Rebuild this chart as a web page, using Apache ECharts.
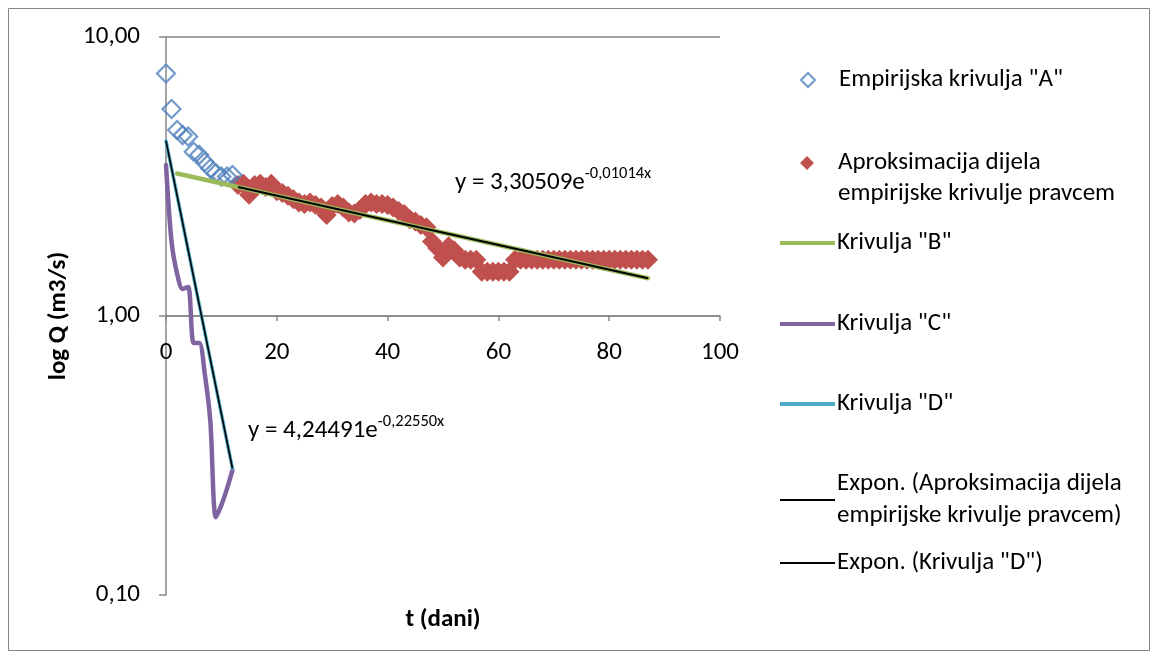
<!DOCTYPE html>
<html>
<head>
<meta charset="utf-8">
<script src="https://cdn.jsdelivr.net/npm/echarts@6/dist/echarts.min.js"></script>
<style>
html,body{margin:0;padding:0;background:#fff;}
#chart{width:1158px;height:659px;}
</style>
</head>
<body>
<div id="chart"></div>
<script>
// ---- data ----
const empTime = [0,1,2,3,4,5,6,7,8,9,10,11,12];
const empQ = [7.40,5.52,4.64,4.45,4.40,3.88,3.78,3.56,3.38,3.25,3.16,3.16,3.20];

const aproxTime = [13,14,15,16,17,18,19,20,21,22,23,24,25,26,27,28,29,30,31,32,33,34,35,36,37,38,39,40,
  41,42,43,44,45,46,47,48,49,50,51,52,53,54,55,56,57,58,59,60,61,62,63,64,65,66,67,68,69,70,
  71,72,73,74,75,76,77,78,79,80,81,82,83,84,85,86,87];
const aproxQ = [2.95,2.98,2.72,2.95,2.98,2.90,2.98,2.80,2.76,2.70,2.62,2.55,2.52,2.55,2.50,2.45,2.30,2.48,2.52,2.45,
  2.35,2.33,2.40,2.52,2.55,2.52,2.52,2.50,2.45,2.38,2.32,2.22,2.18,2.12,2.08,1.85,1.75,1.62,1.78,1.72,
  1.62,1.59,1.59,1.59,1.44,1.44,1.44,1.44,1.44,1.44,1.59,1.59,1.59,1.59,1.59,1.59,1.59,1.59,
  1.59,1.59,1.59,1.59,1.59,1.59,1.59,1.59,1.59,1.59,1.59,1.59,1.59,1.59,1.59,1.59,1.59];

const curveBTime = [2,87];
const curveBQ = [3.24,1.365];

const curveCTime = [0,1,2,3,4,5,6,7,8,9,10,11,12];
const curveCQ = [3.48,1.85,1.42,1.25,1.27,0.80,0.80,0.62,0.42,0.19,0.21,0.24,0.28];

const curveDTime = [0,12];
const curveDQ = [4.24,0.284];

const trendAproxTime = [13,87];
const trendAproxQ = [2.90,1.365];

const trendDTime = [0,12];
const trendDQ = [4.245,0.284];

const xTicks = [0,20,40,60,80,100];
const yTicks = [0.1,1,10];

const seriesNames = [
  'Empirijska krivulja "A"',
  'Aproksimacija dijela empirijske krivulje pravcem',
  'Krivulja "B"',
  'Krivulja "C"',
  'Krivulja "D"',
  'Expon. (Aproksimacija dijela empirijske krivulje pravcem)',
  'Expon. (Krivulja "D")'
];

// ---- build ----
const zip = (xs, ys) => xs.map((x, i) => [x, ys[i]]);
const FONT = 'Carlito, Lato, "Open Sans", sans-serif';
const FS = 25;
const AXIS = '#868686';

const chart = echarts.init(document.getElementById('chart'), null, {renderer: 'canvas'});

function lineLegend(name, top, h, extra) {
  return Object.assign({
    show: true, data: [name], left: 780, top: top, padding: 0,
    icon: 'rect', itemWidth: 55, itemHeight: h, itemGap: 0, selectedMode: false,
    textStyle: {fontFamily: FONT, fontSize: FS, color: '#000', padding: [0,0,0,-3]}
  }, extra || {});
}
function symLegend(name, top, extra) {
  return Object.assign({
    show: true, data: [name], left: 800, top: top, padding: 0,
    itemWidth: 14, itemHeight: 14, itemGap: 0, selectedMode: false,
    textStyle: {fontFamily: FONT, fontSize: FS, color: '#000', padding: [0,0,0,19]}
  }, extra || {});
}

const option = {
  backgroundColor: '#fff',
  animation: false,
  textStyle: {fontFamily: FONT},
  grid: {left: 166, top: 37, width: 554, height: 558, containLabel: false, outerBoundsMode: 'none'},
  xAxis: {
    type: 'value',
    min: xTicks[0],
    max: xTicks[xTicks.length - 1],
    interval: xTicks[1] - xTicks[0],
    position: 'bottom',
    offset: -279,
    axisLine: {show: true, onZero: false, lineStyle: {color: AXIS, width: 1.5}},
    axisTick: {show: true, length: 5, lineStyle: {color: AXIS, width: 1.5}},
    axisLabel: {margin: 24, fontSize: FS, color: '#000', fontFamily: FONT},
    splitLine: {show: false},
    name: 't (dani)',
    nameLocation: 'middle',
    nameGap: 291,
    nameTextStyle: {fontSize: FS, fontWeight: 'bold', color: '#000', fontFamily: FONT}
  },
  yAxis: {
    type: 'log',
    logBase: 10,
    min: yTicks[0],
    max: yTicks[yTicks.length - 1],
    axisLine: {show: true, lineStyle: {color: AXIS, width: 1.5}},
    axisTick: {show: true, length: 7, lineStyle: {color: AXIS, width: 1.5}},
    axisLabel: {
      margin: 26, fontSize: FS, color: '#000', fontFamily: FONT,
      formatter: v => Number(v).toFixed(2).replace('.', ',')
    },
    splitLine: {show: true, lineStyle: {color: ['rgba(0,0,0,0)', AXIS, AXIS], width: 1.5}},
    minorTick: {show: false},
    name: 'log Q (m3/s)',
    nameLocation: 'middle',
    nameGap: 95,
    nameTextStyle: {fontSize: FS, fontWeight: 'bold', color: '#000', fontFamily: FONT}
  },
  legend: [
    symLegend(seriesNames[0], 67.5),
    symLegend(seriesNames[1], 150.5, {formatter: () => 'Aproksimacija dijela'}),
    lineLegend(seriesNames[2], 230.5, 4),
    lineLegend(seriesNames[3], 311.5, 4),
    lineLegend(seriesNames[4], 391.5, 4),
    lineLegend(seriesNames[5], 468, 2, {
      formatter: () => 'Expon. (Aproksimacija dijela\nempirijske krivulje pravcem)',
      textStyle: {fontFamily: FONT, fontSize: FS, color: '#000', lineHeight: 32, padding: [0,0,0,-3]}}),
    lineLegend(seriesNames[6], 550.5, 2)
  ],
  graphic: [
    {type: 'rect', silent: true, z: -10,
      shape: {x: 8.5, y: 8.5, width: 1141, height: 642},
      style: {fill: 'none', stroke: AXIS, lineWidth: 1}},
    {type: 'text', silent: true,
      style: {x: 838, y: 194, text: 'empirijske krivulje pravcem', fill: '#000',
        font: FS + 'px ' + FONT, verticalAlign: 'middle', align: 'left'}},
    {type: 'text', silent: true,
      style: {x: 455, y: 183, verticalAlign: 'middle', align: 'left',
        text: '{m|y = 3,30509e}{s|-0,01014x}',
        rich: {m: {fontSize: FS, fontFamily: FONT, fill: '#000', lineHeight: 36},
               s: {fontSize: 16.5, fontFamily: FONT, fill: '#000', verticalAlign: 'top', lineHeight: 18}}}},
    {type: 'text', silent: true,
      style: {x: 248, y: 431, verticalAlign: 'middle', align: 'left',
        text: '{m|y = 4,24491e}{s|-0,22550x}',
        rich: {m: {fontSize: FS, fontFamily: FONT, fill: '#000', lineHeight: 36},
               s: {fontSize: 16.5, fontFamily: FONT, fill: '#000', verticalAlign: 'top', lineHeight: 18}}}}
  ],
  series: [
    {
      name: seriesNames[1], type: 'scatter', symbol: 'diamond', symbolSize: 20,
      data: zip(aproxTime, aproxQ),
      itemStyle: {color: '#C0504D', opacity: 1},
      emphasis: {disabled: true}
    },
    {
      name: seriesNames[0], type: 'scatter', symbol: 'diamond', symbolSize: 18,
      data: zip(empTime, empQ),
      itemStyle: {color: 'rgba(255,255,255,0)', borderColor: '#4F81BD', borderWidth: 2.2},
      emphasis: {disabled: true}
    },
    {
      name: seriesNames[2], type: 'line', showSymbol: false, symbol: 'none', color: '#9BBB59',
      data: zip(curveBTime, curveBQ),
      lineStyle: {color: '#9BBB59', width: 4.5, cap: 'round'},
      emphasis: {disabled: true}
    },
    {
      name: seriesNames[3], type: 'line', showSymbol: false, symbol: 'none', color: '#8064A2',
      smooth: 0.3,
      data: zip(curveCTime, curveCQ),
      lineStyle: {color: '#8064A2', width: 4.5, cap: 'round', join: 'round'},
      emphasis: {disabled: true}
    },
    {
      name: seriesNames[4], type: 'line', showSymbol: false, symbol: 'none', color: '#4BACC6',
      data: zip(curveDTime, curveDQ),
      lineStyle: {color: '#4BACC6', width: 3.5, cap: 'round'},
      emphasis: {disabled: true}
    },
    {
      name: seriesNames[5], type: 'line', showSymbol: false, symbol: 'none', color: '#000',
      data: zip(trendAproxTime, trendAproxQ),
      lineStyle: {color: '#000', width: 2.2},
      emphasis: {disabled: true}
    },
    {
      name: seriesNames[6], type: 'line', showSymbol: false, symbol: 'none', color: '#000',
      data: zip(trendDTime, trendDQ),
      lineStyle: {color: '#000', width: 1.6},
      emphasis: {disabled: true}
    }
  ]
};
chart.setOption(option);
</script>
</body>
</html>
